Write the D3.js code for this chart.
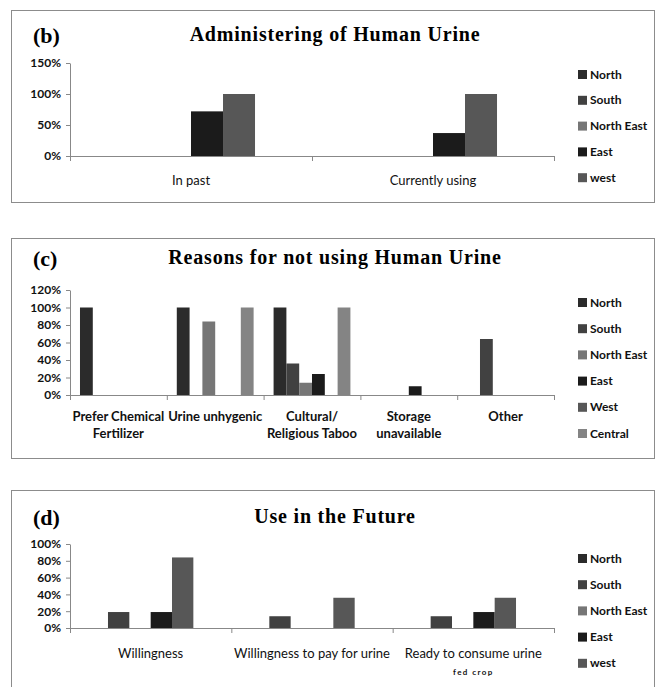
<!doctype html>
<html>
<head>
    <meta charset="utf-8">
    <script src="https://d3js.org/d3.v7.min.js"></script>
    <style>
        body { margin: 0; background: #fff; }
        .tick text { font-family: Lato, sans-serif; font-weight: bold; font-size: 12px; fill: #111; }
        .title { font-family: 'Liberation Serif', serif; font-weight: bold; }
        .cat { font-family: Lato, sans-serif; font-size: 13px; fill: #111; }
        .leg { font-family: Lato, sans-serif; font-weight: bold; font-size: 12px; fill: #111; }
    </style>
</head>
<body>
    <script>
        // region series (b and d use the first five, Excel kept an empty sixth slot)
        var regions = ["North", "South", "North East", "East", "west", "Central"];
        var regionsC = ["North", "South", "North East", "East", "West", "Central"];
        var colors = ["#2b2b2b", "#414141", "#767676", "#1b1b1b", "#575757", "#848484"];

        // (b) Administering of Human Urine
        var catsB = [["In past"], ["Currently using"]];
        var valuesB = [
            [0, 0, 0, 0.72, 1.00],
            [0, 0, 0, 0.37, 1.00]
        ];
        var ticksB = [0, 0.5, 1, 1.5];

        // (c) Reasons for not using Human Urine
        var catsC = [["Prefer Chemical", "Fertilizer"], ["Urine unhygenic"], ["Cultural/", "Religious Taboo"],
            ["Storage", "unavailable"], ["Other"]];
        var valuesC = [
            [1.00, 0, 0, 0, 0, 0],
            [1.00, 0, 0.84, 0, 0, 1.00],
            [1.00, 0.36, 0.14, 0.24, 0, 1.00],
            [0, 0, 0, 0.10, 0, 0],
            [0, 0.64, 0, 0, 0, 0]
        ];
        var ticksC = [0, 0.2, 0.4, 0.6, 0.8, 1.0, 1.2];

        // (d) Use in the Future
        var catsD = [["Willingness"], ["Willingness to pay for urine"], ["Ready to consume urine", "fed crop"]];
        var valuesD = [
            [0, 0.19, 0, 0.19, 0.84],
            [0, 0.14, 0, 0, 0.36],
            [0, 0.14, 0, 0.19, 0.36]
        ];
        var ticksD = [0, 0.2, 0.4, 0.6, 0.8, 1.0];

        var svg = d3.select("body").append("svg")
            .attr("width", 657)
            .attr("height", 687);

        function panel(o) {
            var g = svg.append("g");

            // frame
            g.append("rect")
                .attr("x", 11.5).attr("y", o.top + 0.5)
                .attr("width", 643).attr("height", o.bottom - o.top)
                .attr("fill", "none").attr("stroke", "#8c8c8c").attr("stroke-width", 1);

            g.append("text").attr("class", "title")
                .attr("x", 33).attr("y", o.titleY + 8)
                .style("font-size", "22px")
                .text(o.letter);
            g.append("text").attr("class", "title")
                .attr("x", 335).attr("y", o.titleY + 6)
                .attr("text-anchor", "middle")
                .style("font-size", "20px")
                .style("letter-spacing", "0.8px")
                .text(o.title);

            var x = d3.scaleBand()
                .domain(d3.range(o.cats.length))
                .range([70, 554]);
            var inner = d3.scaleBand()
                .domain(d3.range(6))
                .range([0, x.bandwidth()])
                .paddingOuter(0.78);
            var y = d3.scaleLinear()
                .domain([0, d3.max(o.ticks)])
                .range([o.y0, o.y1]);

            // y axis
            var ya = g.append("g")
                .attr("transform", "translate(70,0)")
                .call(d3.axisLeft(y).tickValues(o.ticks).tickFormat(d3.format(".0%")).tickSize(4).tickSizeOuter(0));
            ya.select(".domain").attr("stroke", "#888");
            ya.selectAll(".tick line").attr("stroke", "#888");
            ya.selectAll(".tick text").attr("x", -9);

            // bars
            o.values.forEach(function (row, i) {
                g.selectAll(null)
                    .data(row.map(function (v, j) { return {v: v, j: j}; }).filter(function (d) { return d.v > 0; }))
                    .enter()
                    .append("rect")
                    .attr("x", function (d) { return x(i) + inner(d.j); })
                    .attr("width", inner.bandwidth())
                    .attr("y", function (d) { return y(d.v); })
                    .attr("height", function (d) { return y(0) - y(d.v); })
                    .attr("fill", function (d) { return colors[d.j]; });
            });

            // x axis with ticks on category boundaries
            g.append("line")
                .attr("x1", 70).attr("x2", 554)
                .attr("y1", y(0) + 0.5).attr("y2", y(0) + 0.5)
                .attr("stroke", "#888");
            g.selectAll(null)
                .data(d3.range(o.cats.length + 1))
                .enter()
                .append("line")
                .attr("x1", function (d) { return 70 + d * x.step() + 0.5; })
                .attr("x2", function (d) { return 70 + d * x.step() + 0.5; })
                .attr("y1", y(0)).attr("y2", y(0) + 5)
                .attr("stroke", "#888");

            // category labels
            o.cats.forEach(function (lines, i) {
                var t = g.append("text").attr("class", "cat")
                    .attr("text-anchor", "middle")
                    .style("font-weight", o.catBold ? "bold" : "normal");
                lines.forEach(function (s, k) {
                    var ts = t.append("tspan")
                        .attr("x", x(i) + x.bandwidth() / 2)
                        .attr("y", o.labelY + k * 17)
                        .text(s);
                    if (o.small && k == 1) {
                        ts.style("font-size", "8px").style("letter-spacing", "1.4px").style("font-weight", "bold");
                    }
                });
            });

            // legend
            o.legend.forEach(function (name, k) {
                var ly = o.legY + k * o.legStep;
                g.append("rect")
                    .attr("x", 578).attr("y", ly - 4)
                    .attr("width", 9).attr("height", 9)
                    .attr("fill", colors[k]);
                g.append("text").attr("class", "leg")
                    .attr("x", 590).attr("y", ly + 4.5)
                    .text(name);
            });
        }

        panel({
            top: 10, bottom: 202, titleY: 35, letter: "(b)", title: "Administering of Human Urine",
            cats: catsB, values: valuesB, ticks: ticksB, y0: 156, y1: 63,
            labelY: 185, legend: regions.slice(0, 5), legY: 74, legStep: 25.8
        });

        panel({
            top: 238, bottom: 458, titleY: 258, letter: "(c)", title: "Reasons for not using Human Urine",
            cats: catsC, values: valuesC, ticks: ticksC, y0: 395, y1: 290, catBold: true,
            labelY: 421, legend: regionsC, legY: 302, legStep: 26.2
        });

        panel({
            top: 490, bottom: 700, titleY: 517, letter: "(d)", title: "Use in the Future",
            cats: catsD, values: valuesD, ticks: ticksD, y0: 628, y1: 544, small: true,
            labelY: 658, legend: regions.slice(0, 5), legY: 558, legStep: 26.2
        });
    </script>
</body>
</html>
